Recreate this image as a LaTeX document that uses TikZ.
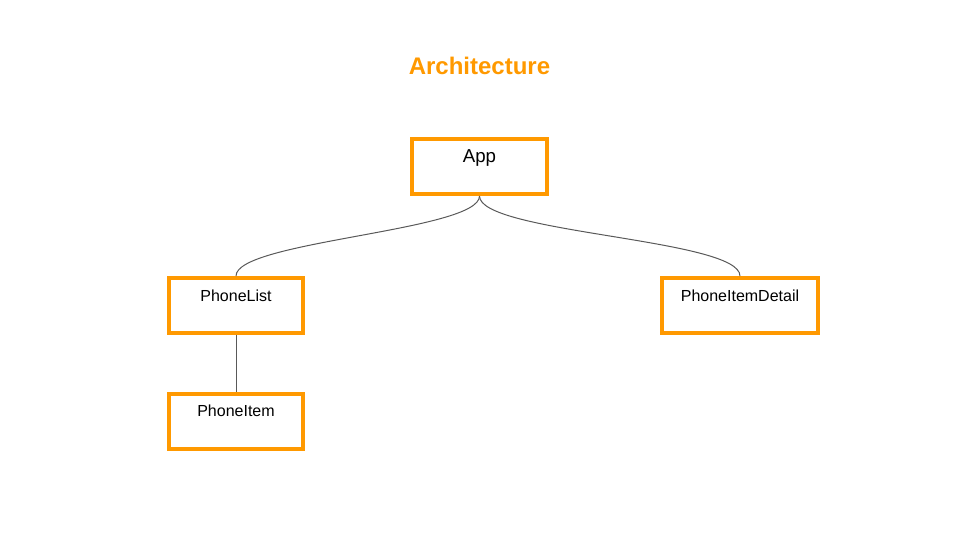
\documentclass[tikz,border=0pt]{standalone}
\usepackage{fontspec}
\setmainfont{Liberation Sans}
\usepackage{xcolor}
\usetikzlibrary{positioning}
\definecolor{archorange}{HTML}{FF9900}
\definecolor{linkgrey}{HTML}{595959}
\tikzset{
  box/.style={draw=archorange, line width=3pt, minimum height=41.25pt, fill=white},
  boxtext/.style={anchor=center, yshift=-15pt, font=\fontsize{12}{14}\selectfont},
  link/.style={draw=linkgrey, line width=0.75pt}
}

\begin{document}
\begin{tikzpicture}[x=0.75pt, y=0.75pt]
    % page frame
    \useasboundingbox (0,0) rectangle (960,-540);

    % title
    \node[text=archorange, font=\fontsize{18}{22}\selectfont\bfseries] (title) at (479.5,-66) {Architecture};

    % draw the boxes
    \node[box, minimum width=101.25pt,
      label={[boxtext, name=apptext, yshift=-0.75pt, font=\fontsize{14}{16}\selectfont]north:App}] (app) at (479.5,-166.5) {};
    \node[box, minimum width=100.5pt,
      label={[boxtext, name=listtext]north:PhoneList}] (list) at (236,-305.5) {};
    \node[box, minimum width=117pt,
      label={[boxtext, name=detailtext]north:PhoneItemDetail}] (detail) at (740,-305.5) {};
    \node[box, minimum width=100.5pt,
      label={[boxtext, name=itemtext, yshift=0.75pt]north:PhoneItem}] (item) at (236,-421.5) {};

    % draw the links
    \draw[link] (app.south) to[out=-90, in=90, looseness=0.35] (list.north);
    \draw[link] (app.south) to[out=-90, in=90, looseness=0.35] (detail.north);
    \draw[link] (list.south) -- (item.north);
\end{tikzpicture}
\end{document}
